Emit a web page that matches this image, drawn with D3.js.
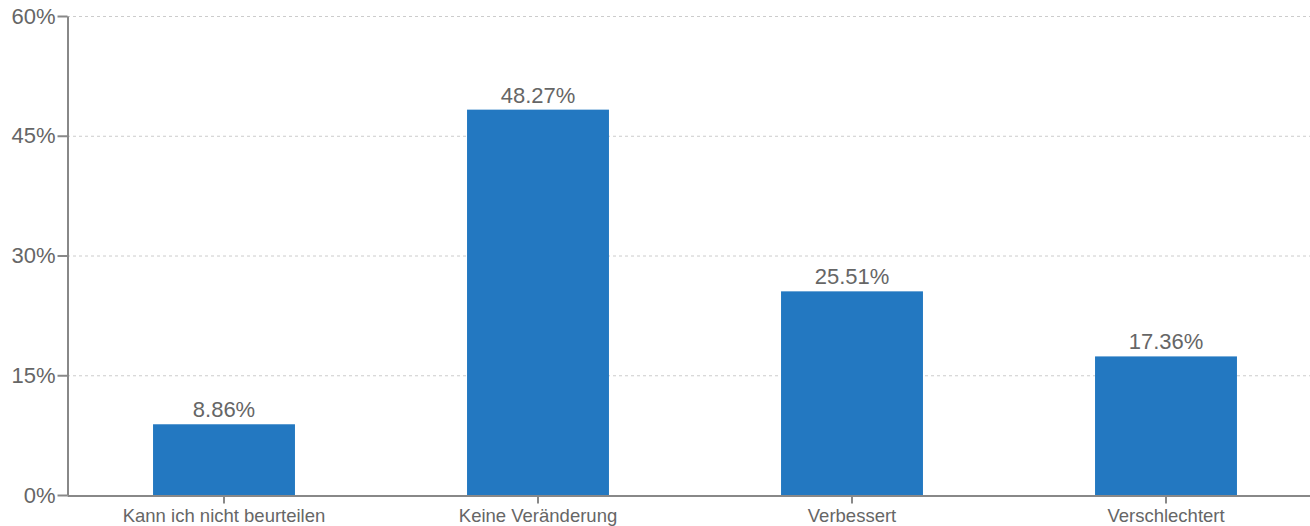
<!DOCTYPE html>
<html><head><meta charset="utf-8">
<script src="https://cdn.jsdelivr.net/npm/d3@7"></script>
<style>body{margin:0;background:#fff}svg{display:block}</style>
</head><body>
<svg id="c" width="1310" height="526"></svg>
<script>
const categories = ["Kann ich nicht beurteilen", "Keine Veränderung", "Verbessert", "Verschlechtert"];
const values = [8.86, 48.27, 25.51, 17.36];
const yTicks = [0, 15, 30, 45, 60];

(function () {
const svg = d3.select("#c");
const mLeft = 67, mTop = 16, mBottom = 495, mRight = 1323;
const font = "Liberation Sans, Arial, Helvetica, sans-serif";
const textColor = "#666";

const x = d3.scaleBand().domain(categories).range([mLeft, mRight]).paddingInner(0.548).paddingOuter(0.274);
const y = d3.scaleLinear().domain([0, 60]).range([mBottom, mTop]);

// grid
svg.append("g").selectAll("line").data(yTicks.filter(d => d > 0)).join("line")
  .attr("x1", mLeft).attr("x2", 1310)
  .attr("y1", d => y(d) + 0.5).attr("y2", d => y(d) + 0.5)
  .attr("stroke", "#ccc").attr("stroke-width", 1).attr("stroke-dasharray", "3,3");

// bars
svg.append("g").selectAll("rect").data(values).join("rect")
  .attr("x", (d, i) => x(categories[i]))
  .attr("width", x.bandwidth())
  .attr("y", d => y(d))
  .attr("height", d => y(0) - y(d))
  .attr("fill", "#2378c1");

// value labels
svg.append("g").selectAll("text").data(values).join("text")
  .attr("x", (d, i) => x(categories[i]) + x.bandwidth() / 2)
  .attr("y", d => y(d) - 7)
  .attr("text-anchor", "middle")
  .attr("font-family", font).attr("font-size", 22).attr("fill", textColor)
  .text(d => d.toFixed(2) + "%");

// y axis
const ya = svg.append("g").attr("transform", `translate(${mLeft + 0.5},0)`)
  .call(d3.axisLeft(y).tickValues(yTicks).tickFormat(d => d + "%").tickSize(10).tickPadding(2).tickSizeOuter(0));
ya.select(".domain").attr("stroke", "#888").attr("stroke-width", 2);
ya.selectAll(".tick line").attr("stroke", "#888").attr("stroke-width", 2);
ya.selectAll(".tick text").attr("font-family", font).attr("font-size", 22).attr("fill", textColor);

// x axis
const xa = svg.append("g").attr("transform", `translate(0,${mBottom + 0.5})`)
  .call(d3.axisBottom(x).tickSize(8).tickPadding(5).tickSizeOuter(0));
xa.select(".domain").attr("stroke", "#888").attr("stroke-width", 2);
xa.selectAll(".tick line").attr("stroke", "#888").attr("stroke-width", 2);
xa.selectAll(".tick text").attr("font-family", font).attr("font-size", 18.5).attr("fill", textColor);
})();
</script>
</body></html>
